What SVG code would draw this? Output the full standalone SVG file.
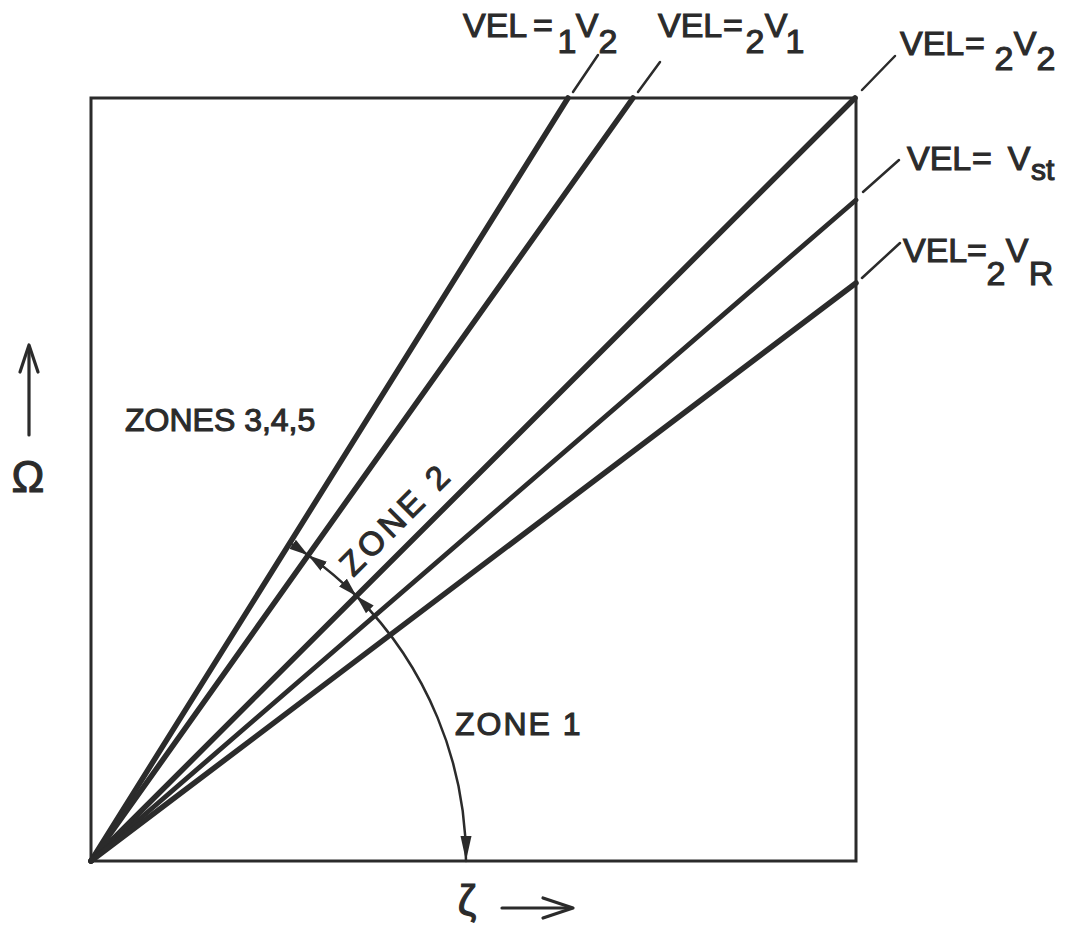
<svg xmlns="http://www.w3.org/2000/svg" width="1076" height="933" viewBox="0 0 1076 933">
<style>
  .ln{stroke:#2b2b2b;fill:none;stroke-linecap:round}
  .ray{stroke-width:5.5}
  .box{stroke-width:3}
  .ld{stroke-width:2.5}
  .dim{stroke-width:2.5}
  .ax{stroke-width:3.2;stroke-linejoin:round}
  text{font-family:"Liberation Sans",Arial,sans-serif;font-size:34px;fill:#2b2b2b;stroke:#2b2b2b;stroke-width:1.1}
</style>
<defs>
  <marker id="ah" markerUnits="userSpaceOnUse" markerWidth="20" markerHeight="12" refX="19" refY="6" orient="auto-start-reverse">
    <path d="M0,0.5 L19,6 L0,11.5 Z" fill="#2b2b2b"/>
  </marker>
  <marker id="ahL" markerUnits="userSpaceOnUse" markerWidth="26" markerHeight="12" refX="25" refY="6" orient="auto-start-reverse">
    <path d="M0,0.5 L25,6 L0,11.5 Z" fill="#2b2b2b"/>
  </marker>
</defs>
<rect width="1076" height="933" fill="#ffffff"/>

<g id="frame">
  <rect class="ln box" x="91" y="98" width="765" height="763"/>
</g>

<g id="connectors">
  <line id="ray-1V2" class="ln ray" x1="91" y1="861" x2="568" y2="98"/>
  <line id="ray-2V1" class="ln ray" x1="91" y1="861" x2="633" y2="98"/>
  <line id="ray-2V2" class="ln ray" x1="91" y1="861" x2="855" y2="98"/>
  <line id="ray-Vst" class="ln ray" x1="91" y1="861" x2="856" y2="200" style="stroke-width:4.8"/>
  <line id="ray-2VR" class="ln ray" x1="91" y1="861" x2="856" y2="283"/>
  <line class="ln ld" x1="573" y1="92" x2="598" y2="55"/>
  <line class="ln ld" x1="638" y1="92" x2="660" y2="62"/>
  <line class="ln ld" x1="862" y1="90" x2="895" y2="56"/>
  <line class="ln ld" x1="863" y1="192" x2="899" y2="160"/>
  <line class="ln ld" x1="862" y1="278" x2="900" y2="243"/>
  <path class="ln dim" d="M289.8,543 A375,375 0 0 1 308.2,555.3" marker-end="url(#ah)"/>
  <path class="ln dim" d="M308.2,555.3 A375,375 0 0 1 356.4,596" marker-start="url(#ah)" marker-end="url(#ah)"/>
  <path class="ln dim" d="M356.4,596 A375,375 0 0 1 466,861" marker-start="url(#ah)" marker-end="url(#ahL)"/>
</g>

<g id="axis-omega">
  <line class="ln ax" x1="29" y1="435" x2="29" y2="347"/>
  <polyline class="ln ax" points="20,372 29,345 38,372"/>
  <text x="28" y="492" text-anchor="middle" style="font-size:44px">Ω</text>
</g>
<g id="axis-zeta">
  <text x="467" y="915" text-anchor="middle" style="font-size:42px">ζ</text>
  <line class="ln ax" x1="502" y1="908" x2="571" y2="908"/>
  <polyline class="ln ax" points="543,898 573,908 543,918"/>
</g>

<g id="label-1V2">
  <text><tspan x="463" y="37">VEL</tspan><tspan x="543" y="37" text-anchor="middle">=</tspan><tspan x="567" y="53" text-anchor="middle">1</tspan><tspan x="587" y="37" text-anchor="middle">V</tspan><tspan x="608" y="53" text-anchor="middle">2</tspan></text>
</g>
<g id="label-2V1">
  <text><tspan x="658" y="37">VEL</tspan><tspan x="733" y="37" text-anchor="middle">=</tspan><tspan x="755" y="53" text-anchor="middle">2</tspan><tspan x="776" y="37" text-anchor="middle">V</tspan><tspan x="795" y="53" text-anchor="middle">1</tspan></text>
</g>
<g id="label-2V2">
  <text><tspan x="900" y="55">VEL</tspan><tspan x="975" y="55" text-anchor="middle">=</tspan><tspan x="1004" y="70" text-anchor="middle">2</tspan><tspan x="1025" y="55" text-anchor="middle">V</tspan><tspan x="1046" y="70" text-anchor="middle">2</tspan></text>
</g>
<g id="label-Vst">
  <text><tspan x="907" y="170">VEL</tspan><tspan x="982" y="170" text-anchor="middle">=</tspan><tspan x="1019" y="170" text-anchor="middle">V</tspan><tspan x="1031" y="180" style="font-size:30px">st</tspan></text>
</g>
<g id="label-2VR">
  <text><tspan x="903" y="262">VEL</tspan><tspan x="977" y="262" text-anchor="middle">=</tspan><tspan x="996" y="285" text-anchor="middle">2</tspan><tspan x="1017" y="262" text-anchor="middle">V</tspan><tspan x="1041" y="285" text-anchor="middle">R</tspan></text>
</g>

<g id="zones-345">
  <text x="125" y="431" style="font-size:32px">ZONES 3,4,5</text>
</g>
<g id="zone-2">
  <text x="404" y="527" text-anchor="middle" transform="rotate(-45 404 527)" style="font-size:33px;letter-spacing:4px">ZONE 2</text>
</g>
<g id="zone-1">
  <text x="455" y="735" style="font-size:32px;letter-spacing:2px">ZONE 1</text>
</g>
</svg>
